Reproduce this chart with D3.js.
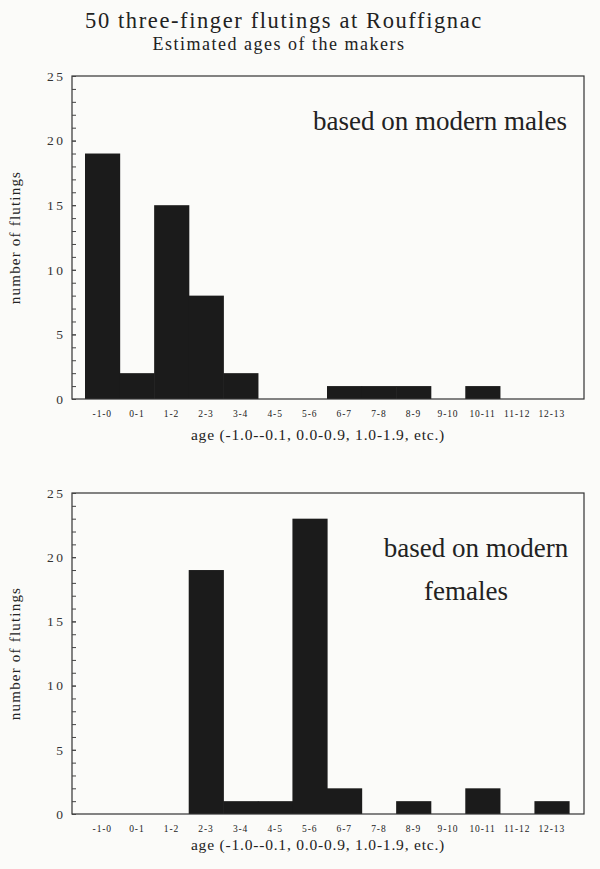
<!DOCTYPE html>
<html>
<head>
<meta charset="utf-8">
<script src="https://cdn.jsdelivr.net/npm/d3@7"></script>
<style>
    body { margin: 0; background: #fbfbf9; }
    svg text { font-family: "Liberation Serif", "Times New Roman", Times, serif; }
</style>
</head>
<body>
<div id="chart"></div>
<script>
// age classes (years), shared by both panels
var ageBins = ["-1-0", "0-1", "1-2", "2-3", "3-4", "4-5", "5-6", "6-7", "7-8", "8-9", "9-10", "10-11", "11-12", "12-13"];
// number of flutings per age class
var maleCounts = [19, 2, 15, 8, 2, 0, 0, 1, 1, 1, 0, 1, 0, 0];
var femaleCounts = [0, 0, 0, 19, 1, 1, 23, 2, 0, 1, 0, 2, 0, 1];
var yTicks = [0, 5, 10, 15, 20, 25];
var yMinor = d3.range(0, 26, 1);

var W = 600, H = 869;
var margin = { left: 72, right: 16 };
var w = W - margin.left - margin.right;

var svg = d3.select("#chart").append("svg")
    .attr("width", W)
    .attr("height", H);

svg.append("text")
    .attr("x", 284).attr("y", 28)
    .attr("text-anchor", "middle")
    .style("font-size", "22.5px")
    .style("letter-spacing", "1.6px")
    .attr("fill", "#222")
    .text("50 three-finger flutings at Rouffignac");

svg.append("text")
    .attr("x", 279).attr("y", 50)
    .attr("text-anchor", "middle")
    .style("font-size", "18px")
    .style("letter-spacing", "1.5px")
    .attr("fill", "#222")
    .text("Estimated ages of the makers");

function drawPanel(top, h, counts, note, titleDy) {
    var g = svg.append("g")
        .attr("transform", "translate(" + margin.left + "," + top + ")");

    var x = d3.scaleBand().domain(ageBins).range([13, w - 15]).paddingInner(0);
    var y = d3.scaleLinear().domain([0, 25]).range([h, 0]);

    // bars
    g.selectAll("rect.bar")
        .data(counts.map(function (d, i) { return { bin: ageBins[i], n: d }; }))
        .enter().append("rect")
        .attr("class", "bar")
        .attr("x", function (d) { return x(d.bin); })
        .attr("width", x.bandwidth() + 0.6)
        .attr("y", function (d) { return y(d.n); })
        .attr("height", function (d) { return h - y(d.n); })
        .attr("fill", "#1b1b1b");

    // frame
    g.append("rect")
        .attr("width", w).attr("height", h)
        .attr("fill", "none")
        .attr("stroke", "#333")
        .attr("stroke-width", 1.2);

    // minor ticks (inward)
    var minor = g.append("g").call(d3.axisLeft(y).tickValues(yMinor).tickSize(-4).tickFormat(""));
    minor.select(".domain").remove();
    minor.selectAll("line").attr("stroke", "#444");

    var yAx = g.append("g").call(d3.axisLeft(y).tickValues(yTicks).tickSize(-4).tickPadding(6.5));
    yAx.select(".domain").remove();
    yAx.attr("font-family", null);
    yAx.selectAll("line").attr("stroke", "#444");
    yAx.selectAll("text")
        .style("font-size", "13.5px")
        .style("letter-spacing", "2.5px")
        .attr("fill", "#333");

    var xAx = g.append("g")
        .attr("transform", "translate(0," + h + ")")
        .call(d3.axisBottom(x).tickSize(0).tickPadding(11));
    xAx.select(".domain").remove();
    xAx.attr("font-family", null);
    xAx.selectAll("text")
        .style("font-size", "9.5px")
        .style("letter-spacing", "0.9px")
        .attr("fill", "#222");

    g.append("text")
        .attr("x", 246).attr("y", h + titleDy)
        .attr("text-anchor", "middle")
        .style("font-size", "15.5px")
        .style("letter-spacing", "0.8px")
        .attr("fill", "#222")
        .text("age (-1.0--0.1, 0.0-0.9, 1.0-1.9, etc.)");

    g.append("text")
        .attr("transform", "translate(" + (-52) + "," + (h / 2) + ") rotate(-90)")
        .attr("text-anchor", "middle")
        .style("font-size", "15px")
        .style("letter-spacing", "1.2px")
        .attr("fill", "#222")
        .text("number of flutings");

    note.forEach(function (t) {
        g.append("text")
            .attr("x", t.x).attr("y", t.y)
            .attr("text-anchor", "middle")
            .style("font-size", "27px")
            .attr("fill", "#222")
            .text(t.text);
    });
}

drawPanel(76, 323, maleCounts, [{ text: "based on modern males", x: 368, y: 54 }], 41);
drawPanel(493, 321, femaleCounts, [
    { text: "based on modern", x: 404, y: 64 },
    { text: "females", x: 394, y: 107 }
], 36);
</script>
</body>
</html>
